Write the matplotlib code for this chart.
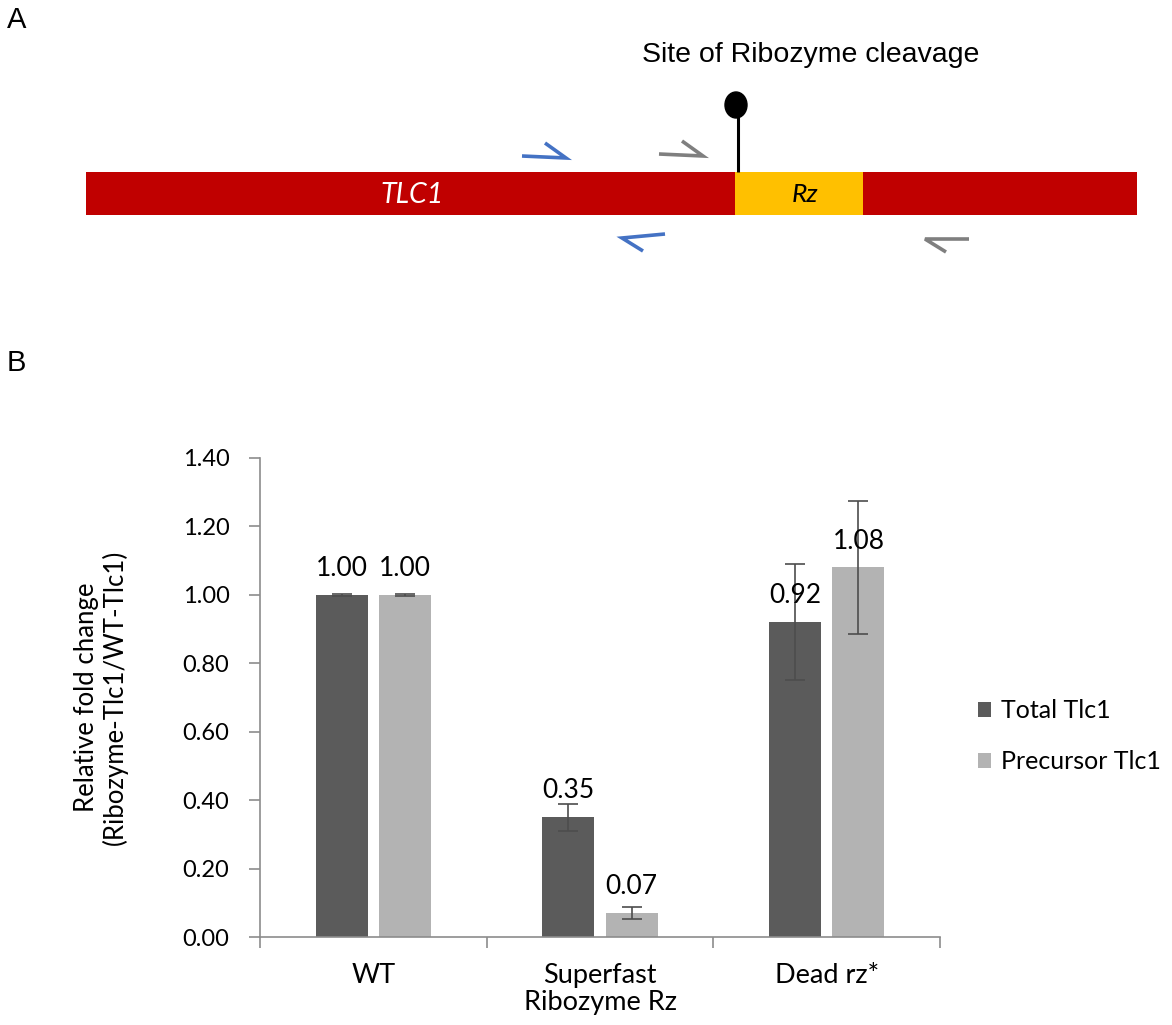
import numpy as np
import matplotlib
matplotlib.use('Agg')
import matplotlib.pyplot as plt
import matplotlib.patches as mpatches

# DATA FOR PANEL B
categories = ['WT', 'Superfast', 'Dead rz*']
series_names = ['Total Tlc1', 'Precursor Tlc1']
total_vals = [1.00, 0.35, 0.92]
total_err = [0.002, 0.04, 0.17]
precursor_vals = [1.00, 0.07, 1.08]
precursor_err = [0.002, 0.018, 0.195]
y_ticks = [0.0, 0.2, 0.4, 0.6, 0.8, 1.0, 1.2, 1.4]

DARK = '#5b5b5b'
LIGHT = '#b3b3b3'
AXIS = '#8c8c8c'
CAL = 'Lato'
ARIAL = 'Liberation Sans'

fig = plt.figure(figsize=(11.72, 10.25), dpi=100)

#===============================================================================
# PANEL A: SCHEMATIC (drawn in pixel coords of the figure)
axA = fig.add_axes([0, 0, 1, 1])
axA.set_xlim(0, 1172)
axA.set_ylim(1025, 0)
axA.axis('off')

axA.text(7, 20, 'A', fontsize=21, family=ARIAL, va='center', ha='left')
axA.text(7, 363, 'B', fontsize=21, family=ARIAL, va='center', ha='left')

# gene bar and ribozyme block
axA.add_patch(mpatches.Rectangle((86, 172), 1051, 43, color='#c00000', lw=0))
axA.add_patch(mpatches.Rectangle((735, 172), 128, 43, color='#ffc000', lw=0))
axA.text(412, 195, 'TLC1', fontsize=20.5, family=CAL, style='italic', color='white',
         ha='center', va='center')
axA.text(805, 195, 'Rz', fontsize=19, family=CAL, style='italic', color='black',
         ha='center', va='center')

# cleavage pin
axA.plot([738, 738], [108, 172], color='black', lw=2.2, solid_capstyle='butt')
axA.add_patch(mpatches.Ellipse((736, 105), 22, 26, color='black'))
axA.text(811, 55, 'Site of Ribozyme cleavage', fontsize=20.5, family=ARIAL,
         ha='center', va='center')

# primers (half arrows)
def primer(ax, x0, y0, x1, y1, bx, by, col):
    ax.plot([x0, x1, bx], [y0, y1, by], color=col, lw=2.6,
            solid_joinstyle='miter', solid_capstyle='butt')

primer(axA, 522, 156, 566, 158, 545, 143, '#4472c4')
primer(axA, 659, 154, 703, 156, 682, 141, '#7f7f7f')
primer(axA, 665, 234, 622, 238, 643, 251, '#4472c4')
primer(axA, 969, 239, 925, 239, 946, 252, '#7f7f7f')

#===============================================================================
# PANEL B: BAR CHART
ax = fig.add_axes([260/1172, (1025-937)/1025, 680/1172, 479/1025])
ax.patch.set_alpha(0)

x = np.arange(len(categories))
w = 0.23
ax.bar(x - 0.14, total_vals, width=w, color=DARK, label=series_names[0], zorder=2)
ax.bar(x + 0.14, precursor_vals, width=w, color=LIGHT, label=series_names[1], zorder=2)

ekw = dict(fmt='none', ecolor='#4d4d4d', elinewidth=1.2, capsize=7, capthick=1.2, zorder=3)
ax.errorbar(x - 0.14, total_vals, yerr=total_err, **ekw)
ax.errorbar(x + 0.14, precursor_vals, yerr=precursor_err, **ekw)

for xs, vals in [(x - 0.14, total_vals), (x + 0.14, precursor_vals)]:
    for xi, v in zip(xs, vals):
        ax.annotate('%.2f' % v, (xi, v), xytext=(0, 19), textcoords='offset points',
                    ha='center', va='center', fontsize=19, family=CAL, zorder=4)

ax.set_xlim(-0.5, 2.5)
ax.set_ylim(0, 1.4)
ax.set_yticks(y_ticks)
ax.set_yticklabels(['%.2f' % t for t in y_ticks], family=CAL, fontsize=17)
ax.set_xticks(x)
ax.set_xticklabels(categories, family=CAL, fontsize=19.5)
ax.set_xticks([-0.5, 0.5, 1.5, 2.5], minor=True)
ax.tick_params(axis='x', which='major', length=0, pad=19)
ax.tick_params(axis='x', which='minor', length=8, color=AXIS, width=1.2)
ax.tick_params(axis='y', length=8, color=AXIS, width=1.2, pad=14)

for s in ['top', 'right']:
    ax.spines[s].set_visible(False)
for s in ['left', 'bottom']:
    ax.spines[s].set_color(AXIS)
    ax.spines[s].set_linewidth(1.2)

ax.set_xlabel('Ribozyme Rz', family=CAL, fontsize=19.5, labelpad=1)
fig.text(101/1172, 1 - 697/1025, 'Relative fold change\n(Ribozyme-Tlc1/WT-Tlc1)',
         rotation=90, ha='center', va='center', family=CAL, fontsize=18.5,
         linespacing=1.1)

leg = ax.legend(loc='upper left', bbox_to_anchor=(955/1172, 1 - 677/1025),
                bbox_transform=fig.transFigure, frameon=False,
                prop={'family': CAL, 'size': 18}, handlelength=0.55, handleheight=0.55,
                handletextpad=0.4, labelspacing=1.1)

fig.savefig('out.png', dpi=100)
